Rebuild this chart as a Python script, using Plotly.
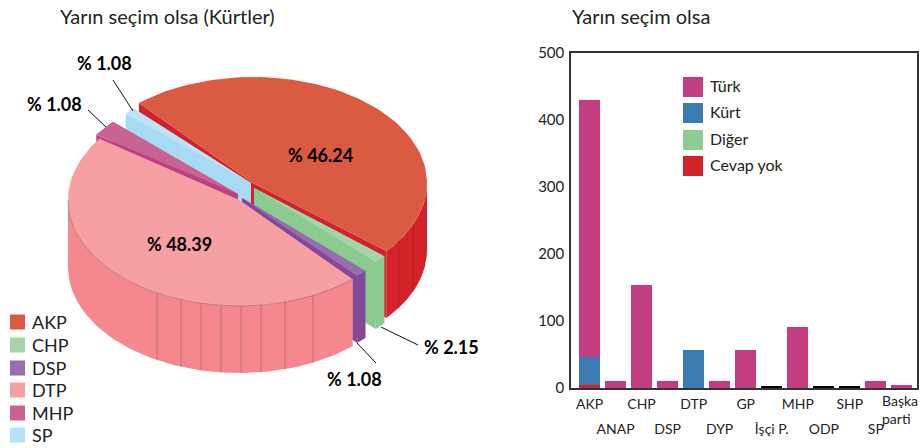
import numpy as np
import plotly.graph_objects as go

# ---------- data ----------
pie_parties = ["AKP", "CHP", "DSP", "DTP", "MHP", "SP"]
pie_values = [46.24, 2.15, 1.08, 48.39, 1.08, 1.08]

bar_parties = ["AKP", "ANAP", "CHP", "DSP", "DTP", "DYP", "GP", "İşçi P.", "MHP", "ODP", "SHP", "SP", "Başka parti"]
cevap_yok = [4, 0, 0, 0, 0, 0, 0, 0, 0, 0, 0, 0, 0]
kurt = [42, 0, 0, 0, 57, 0, 0, 0, 0, 0, 0, 0, 0]
diger = [0, 0, 0, 0, 0, 0, 0, 0, 0, 0, 0, 0, 0]
turk = [384, 11, 153, 11, 0, 11, 57, 0, 91, 0, 0, 11, 5]
diger_siyah = [0, 0, 0, 0, 0, 0, 0, 3, 0, 3, 3, 0, 0]
y_ticks = [0, 100, 200, 300, 400, 500]
bar_legend = ["Türk", "Kürt", "Diğer", "Cevap yok"]

# ---------- drawing geometry (pixel overlay) ----------
RY, DEPTH = 106, 67
TOP_C = {"AKP": "#DB5A42", "CHP": "#A3D5A8", "DSP": "#9A6CB0", "DTP": "#F6A0A4", "MHP": "#C86494", "SP": "#BEE3F6"}
WALL_C = {"AKP": "#D2232A", "CHP": "#8ACB90", "DSP": "#82499B", "DTP": "#F5888E", "MHP": "#C03F84", "SP": "#A7DBF3"}
LEG_C = {"AKP": "#DB5A42", "CHP": "#A3D5A8", "DSP": "#9A6CB0", "DTP": "#F6A0A4", "MHP": "#C86494", "SP": "#B8E2F6"}
APEX = {"AKP": (253, 183), "CHP": (254, 188), "DSP": (242, 198), "DTP": (239, 200), "MHP": (238, 194), "SP": (251, 183)}
RADX = {"AKP": 174, "CHP": 170, "DSP": 170, "DTP": 171, "MHP": 171, "SP": 166}
START = {"AKP": 229, "CHP": 40, "DSP": 43.5, "DTP": 48.4, "MHP": 214, "SP": 221}
SWEEP_SCALE = {"AKP": 1.027, "CHP": 0.55, "DSP": 1, "DTP": 0.958, "MHP": 2.3, "SP": 1}
DRAW_ORDER = ["AKP", "SP", "MHP", "CHP", "DSP", "DTP"]
SEAMS = {"DTP": [64.4, 74.4, 82.6, 89.3, 96, 102.8, 109.8, 118.6], "AKP": [23, 33]}
FONT = "Lato"
TXT = "#222222"

fig = go.Figure()

# bars
BX = dict(xaxis="x", yaxis="y", hoverinfo="skip", showlegend=False)
for name, vals, col in [("Cevap yok", cevap_yok, "#D2232A"), ("Kürt", kurt, "#3A7CB1"),
                        ("Diğer", diger, "#8CCB91"), ("Türk", turk, "#C23E80"),
                        ("Siyah", diger_siyah, "#000000")]:
    fig.add_bar(x=bar_parties, y=vals, name=name, marker=dict(color=col, line_width=0), **BX)
fig.add_scatter(x=[bar_parties[0]], y=[None], xaxis="x2", yaxis="y", mode="markers", hoverinfo="skip", showlegend=False)

P = dict(xaxis="x3", yaxis="y3", hoverinfo="skip", showlegend=False)


def arc(cx, cy, rx, a0, a1, n=80):
    t = np.radians(np.linspace(a0, a1, n))
    return cx + rx * np.cos(t), cy + RY * np.sin(t)


def poly(xs, ys, col):
    fig.add_scatter(x=list(xs), y=list(ys), mode="lines", fill="toself", fillcolor=col,
                    line=dict(width=0, color=col), **P)


vals = dict(zip(pie_parties, pie_values))
for p in DRAW_ORDER:
    cx, cy = APEX[p]
    rx = RADX[p]
    a0 = START[p]
    a1 = a0 + vals[p] * 3.6 * SWEEP_SCALE[p]
    # radial walls
    for a in (a0, a1):
        ex, ey = cx + rx * np.cos(np.radians(a)), cy + RY * np.sin(np.radians(a))
        poly([cx, ex, ex, cx], [cy, ey, ey + DEPTH, cy + DEPTH], WALL_C[p])
    # rim wall: only the part facing the viewer
    for shift in (0, 360):
        lo, hi = max(a0, shift), min(a1, shift + 180)
        if lo < hi:
            x, y = arc(cx, cy, rx, lo, hi)
            poly(np.r_[x, x[::-1]], np.r_[y, y[::-1] + DEPTH], WALL_C[p])
    # top face
    x, y = arc(cx, cy, rx, a0, a1)
    poly(np.r_[cx, x], np.r_[cy, y], TOP_C[p])
    # seams and rim line
    if p in SEAMS:
        sx, sy = [], []
        for s in SEAMS[p]:
            ex, ey = cx + rx * np.cos(np.radians(s)), cy + RY * np.sin(np.radians(s))
            sx += [ex, ex, None]
            sy += [ey, ey + DEPTH, None]
        fig.add_scatter(x=sx, y=sy, mode="lines", line=dict(width=0.7, color="#A8666B" if p == "DTP" else "#B01E24"), **P)
    if p == "DTP":
        x, y = arc(cx, cy, rx, a0, 180)
        fig.add_scatter(x=x, y=y, mode="lines", line=dict(width=0.6, color="#8E6468"), **P)

# leader lines
lx = [113, 133, None, 88, 106, None, 381, 418, None, 357, 376]
ly = [80, 111, None, 110, 127, None, 327, 345, None, 343, 363]
fig.add_scatter(x=lx, y=ly, mode="lines", line=dict(width=1, color="#111111"), **P)

ann = []


def text(x, y, s, size, font=FONT, color=TXT, anchor="left", **kw):
    ann.append(dict(x=x, y=y, xref="x3", yref="y3", text=s, showarrow=False, xanchor=anchor, yanchor="middle",
                    font=dict(family=font, size=size, color=color), **kw))


# pie value labels
LABEL_POS = {"AKP": (320, 155), "CHP": (451, 347), "DSP": (354, 379), "DTP": (179, 244), "MHP": (54, 104), "SP": (104, 63)}
for p in pie_parties:
    text(*LABEL_POS[p], f"<b>% {vals[p]:.2f}</b>", 18, color="#000000", anchor="center")

# pie legend
LEG_Y = [322, 345, 368, 390, 413, 435]
fig.add_scatter(x=[17.5] * len(pie_parties), y=LEG_Y, mode="markers",
                marker=dict(symbol="square", size=15, color=[LEG_C[p] for p in pie_parties], line_width=0), **P)
for p, yy in zip(pie_parties, LEG_Y):
    text(30, yy, p, 18)

# bar legend
BL_Y = [87, 113, 140, 166]
fig.add_scatter(x=[693] * len(bar_legend), y=BL_Y, mode="markers",
                marker=dict(symbol="square", size=20, color=["#C23E80", "#3A7CB1", "#8CCB91", "#D2232A"], line_width=0), **P)
for s, yy in zip(bar_legend, BL_Y):
    text(708, yy - 2, s, 16)

# titles
text(58, 16, "Yarın seçim olsa (Kürtler)", 20)
text(570, 16, "Yarın seçim olsa", 20)

# last two-line category label
text(880, 409, "Başka<br>parti", 14, align="left")

x_range = [-0.71, 12.58]
row1 = bar_parties[0::2][:-1]
row2 = bar_parties[1::2]
fig.update_layout(
    width=919, height=448, autosize=False, margin=dict(l=0, r=0, t=0, b=0),
    paper_bgcolor="white", plot_bgcolor="rgba(0,0,0,0)", barmode="stack", bargap=0.19, showlegend=False,
    annotations=ann,
    xaxis=dict(domain=[571 / 919, 917 / 919], range=x_range, type="category", categoryorder="array",
               categoryarray=bar_parties, tickmode="array", tickvals=row1, ticktext=row1, ticks="", showgrid=False,
               showline=True, mirror=True, linecolor="#333333", linewidth=1.5, anchor="y", tickangle=0, automargin=False,
               tickfont=dict(family=FONT, size=14, color=TXT), ticklabelstandoff=2),
    xaxis2=dict(domain=[571 / 919, 917 / 919], range=x_range, type="category", categoryorder="array",
                categoryarray=bar_parties, tickmode="array", tickvals=row2, ticktext=row2, ticks="", showgrid=False,
                overlaying="x", anchor="y", side="bottom", tickangle=0, automargin=False,
                tickfont=dict(family=FONT, size=14, color=TXT), ticklabelstandoff=31),
    yaxis=dict(domain=[60 / 448, 395 / 448], range=[0, 500], tickvals=y_ticks, showgrid=False, zeroline=False,
               showline=True, mirror=True, linecolor="#333333", linewidth=1.5, ticks="", anchor="x", automargin=False,
               tickfont=dict(family=FONT, size=15, color=TXT), ticklabelstandoff=2),
    xaxis3=dict(domain=[0, 1], range=[0, 919], visible=False, anchor="y3", fixedrange=True, automargin=False),
    yaxis3=dict(domain=[0, 1], range=[448, 0], visible=False, anchor="x3", fixedrange=True, automargin=False),
)
fig.write_html("out.html", config=dict(displayModeBar=False),
               post_script="document.body.style.margin='0';")
